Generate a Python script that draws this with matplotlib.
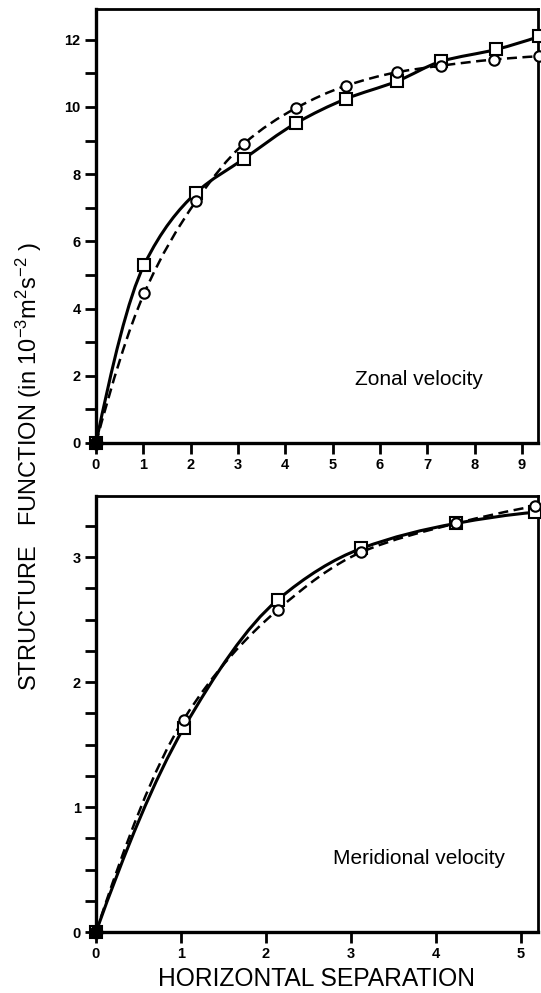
import numpy as np
import matplotlib
matplotlib.use('Agg')
import matplotlib.pyplot as plt
from matplotlib.path import Path
from matplotlib.patches import PathPatch
from matplotlib.ticker import MultipleLocator

plt.rcParams['font.family'] = ['Liberation Sans', 'DejaVu Sans']
plt.rcParams['mathtext.fontset'] = 'custom'
plt.rcParams['mathtext.rm'] = 'Liberation Sans'
plt.rcParams['mathtext.default'] = 'regular'

# Zonal velocity (top panel)
zonal_x_sq = [0, 1.02, 2.11, 3.13, 4.23, 5.28, 6.35, 7.30, 8.45, 9.37]
zonal_y_sq = [0, 5.31, 7.44, 8.46, 9.52, 10.24, 10.76, 11.36, 11.71, 12.10]
zonal_x_ci = [0, 1.02, 2.11, 3.13, 4.23, 5.28, 6.35, 7.30, 8.40, 9.37]
zonal_y_ci = [0, 4.46, 7.19, 8.91, 9.97, 10.63, 11.03, 11.23, 11.41, 11.51]

# Meridional velocity (bottom panel)
merid_x_sq = [0, 1.03, 2.14, 3.12, 4.23, 5.17]
merid_y_sq = [0, 1.63, 2.66, 3.07, 3.27, 3.36]
merid_x_ci = [0, 1.03, 2.14, 3.12, 4.23, 5.17]
merid_y_ci = [0, 1.70, 2.58, 3.04, 3.27, 3.41]


def smooth_path(x, y):
    # monotone cubic (pchip-style) tangents -> bezier segments through the data
    x = np.asarray(x, float)
    y = np.asarray(y, float)
    h = np.diff(x)
    d = np.diff(y) / h
    n = len(x)
    m = np.zeros(n)
    for k in range(1, n - 1):
        if d[k - 1] * d[k] <= 0:
            m[k] = 0
        else:
            w1 = 2 * h[k] + h[k - 1]
            w2 = h[k] + 2 * h[k - 1]
            m[k] = (w1 + w2) / (w1 / d[k - 1] + w2 / d[k])
    for i0, i1, j in [(0, 1, 0), (-1, -2, -1)]:
        hh0, hh1 = h[i0], h[i1]
        dd0, dd1 = d[i0], d[i1]
        e = ((2 * hh0 + hh1) * dd0 - hh0 * dd1) / (hh0 + hh1)
        if np.sign(e) != np.sign(dd0):
            e = 0
        elif np.sign(dd0) != np.sign(dd1) and abs(e) > 3 * abs(dd0):
            e = 3 * dd0
        m[j] = e
    verts = [(x[0], y[0])]
    codes = [Path.MOVETO]
    for k in range(n - 1):
        verts += [(x[k] + h[k] / 3, y[k] + m[k] * h[k] / 3),
                  (x[k + 1] - h[k] / 3, y[k + 1] - m[k + 1] * h[k] / 3),
                  (x[k + 1], y[k + 1])]
        codes += [Path.CURVE4] * 3
    return Path(verts, codes)


def draw_panel(ax, xs, ys, xc, yc, xmax, ymax, major_y, minor_y, xticks, label, lx, ly):
    ax.add_patch(PathPatch(smooth_path(xs, ys), fill=False, lw=2.2, ec='black', ls='-'))
    ax.add_patch(PathPatch(smooth_path(xc, yc), fill=False, lw=1.8, ec='black', ls=(0, (4, 2.2))))
    ax.plot(xs, ys, ls='none', marker='s', ms=8, mfc='white', mec='black', mew=1.5, clip_on=False, zorder=5)
    ax.plot(xc, yc, ls='none', marker='o', ms=7.5, mfc='white', mec='black', mew=1.5, clip_on=False, zorder=5)
    ax.plot(xs[0], ys[0], ls='none', marker='o', ms=9, color='black', clip_on=False, zorder=6)
    ax.set_xlim(0, xmax)
    ax.set_ylim(0, ymax)
    ax.set_xticks(xticks)
    ax.yaxis.set_major_locator(MultipleLocator(major_y))
    ax.yaxis.set_minor_locator(MultipleLocator(minor_y))
    ax.tick_params(which='both', direction='out', length=8, width=2, labelsize=10.5, pad=3)
    for t in ax.get_xticklabels() + ax.get_yticklabels():
        t.set_fontweight('bold')
    for s in ['left', 'bottom']:
        ax.spines[s].set_linewidth(2.4)
    for s in ['top', 'right']:
        ax.spines[s].set_linewidth(2.0)
    ax.text(lx, ly, label, fontsize=15, ha='left', va='center')


fig = plt.figure(figsize=(5.41, 9.93), dpi=100)
ax1 = fig.add_axes([96 / 541, 1 - 443 / 993, 442 / 541, 434.5 / 993])
ax2 = fig.add_axes([96 / 541, 1 - 932 / 993, 442 / 541, 436 / 993])

draw_panel(ax1, zonal_x_sq, zonal_y_sq, zonal_x_ci, zonal_y_ci, 9.34, 12.93,
           2, 1, range(0, 10), 'Zonal velocity', 5.47, 1.88)
draw_panel(ax2, merid_x_sq, merid_y_sq, merid_x_ci, merid_y_ci, 5.2, 3.49,
           1, 0.25, range(0, 6), 'Meridional velocity', 2.79, 0.59)

fig.text(317 / 541, 1 - 979 / 993, 'HORIZONTAL SEPARATION', fontsize=17.7, ha='center', va='center')
fig.text(29 / 541, 1 - 466 / 993, r'STRUCTURE   FUNCTION (in 10$^{-3}$m$^{2}$s$^{-2}$ )',
         fontsize=17, rotation=90, ha='center', va='center')

fig.savefig('out.png', dpi=100)
